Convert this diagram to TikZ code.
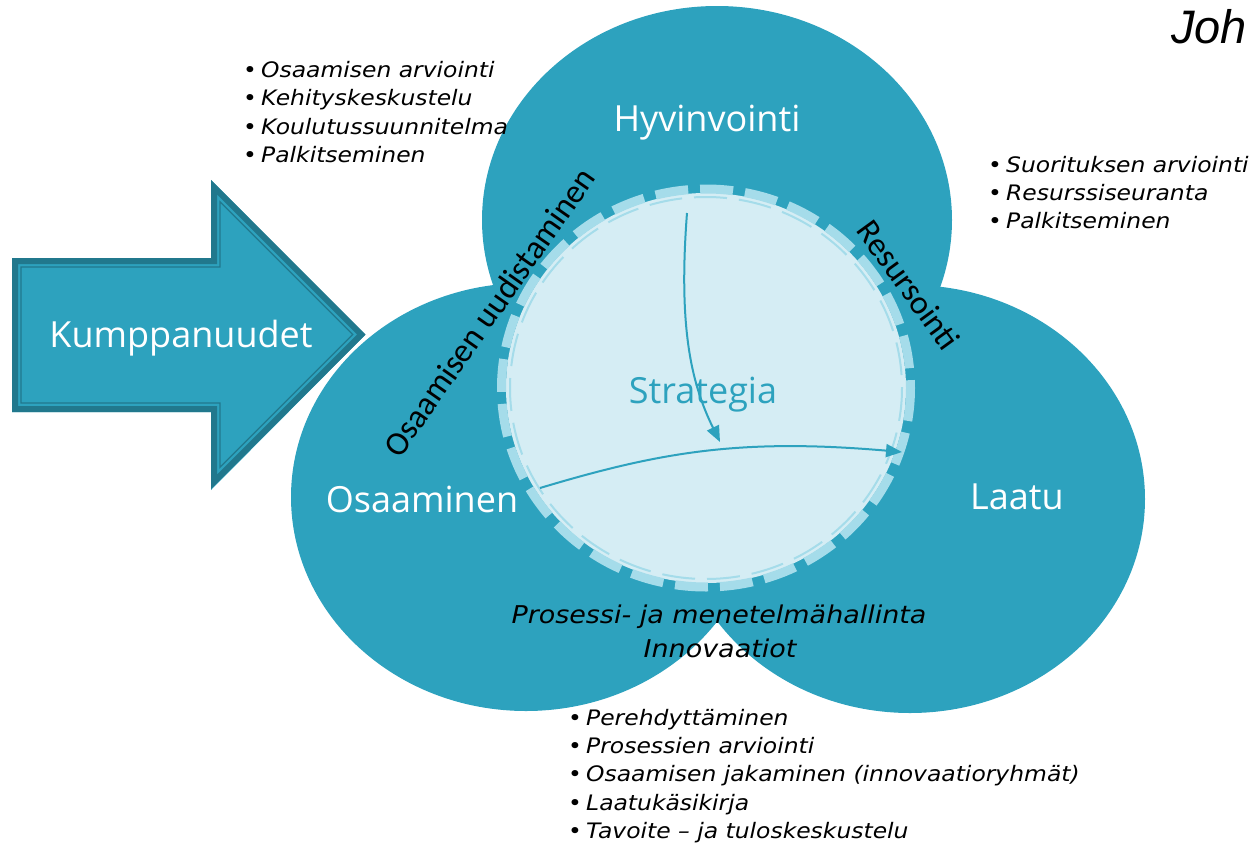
\documentclass[tikz,border=0pt]{standalone}
\usepackage{fontspec}
\setmainfont{Open Sans}
\newfontfamily\listfont[FakeStretch=1.1]{DejaVu Sans}
\newfontfamily\edgefont{Carlito}
\newfontfamily\titlefont{Liberation Sans}
\usetikzlibrary{shapes.geometric, arrows.meta}

\definecolor{areablue}{RGB}{45,162,190}
\definecolor{areadark}{RGB}{33,120,141}
\definecolor{stratfill}{RGB}{213,237,244}
\definecolor{stratdash}{RGB}{165,220,234}

\newcommand{\bitem}[1]{\makebox[18pt][l]{•}\textit{#1}}

\begin{document}
\begin{tikzpicture}[x=1pt, y=-1pt,
            area/.style={ellipse, fill=areablue, minimum width=470, minimum height=428, inner sep=0pt},
            arealabel/.style={text=white, font=\fontsize{36}{40}\selectfont, anchor=base, inner sep=0pt},
            edgelabel/.style={font=\edgefont\fontsize{33.5}{36}\selectfont, inner sep=0pt},
            listitem/.style={font=\listfont\fontsize{21.3}{28}\selectfont, anchor=base west, inner sep=0pt},
            proclabel/.style={font=\listfont\itshape\fontsize{24.5}{28}\selectfont, anchor=base, inner sep=0pt},
            flow/.style={areablue, line width=2pt, -{Triangle[length=16pt, width=13pt]}}
        ]
            \useasboundingbox (0,0) rectangle (1254,846);

            % the three areas
            \node[area] (hyv) at (717,220) {};
            \node[area] (osa) at (526,497) {};
            \node[area] (laa) at (910,499) {};

            % strategy in the middle
            \node[ellipse, fill=stratfill, minimum width=400, minimum height=390, inner sep=0pt] (strat) at (706,388) {};
            \draw[stratdash, line width=9pt, dash pattern=on 33pt off 12pt] (strat.center) ellipse [x radius=204.5, y radius=199];
            \draw[stratdash, line width=2pt, dash pattern=on 33pt off 12pt] (strat.center) ellipse [x radius=196, y radius=191];

            \coordinate (down0) at (687,213);
            \coordinate (down1) at (720,442);
            \coordinate (side0) at (540,488);
            \coordinate (side1) at (902,452);
            \draw[flow] (down0) .. controls (678,330) and (692,385) .. (down1);
            \draw[flow] (side0) .. controls (660,452) and (740,438) .. (side1);

            % partners arrow
            \fill[areablue] (12,258) -- (211,258) -- (211,180) -- (365,335) -- (211,490) -- (211,412) -- (12,412) -- cycle;
            \draw[areadark, line width=6pt] (15,261) -- (214,261) -- (214,187.2) -- (361.3,334.5) -- (214,481.8) -- (214,409) -- (15,409) -- cycle;
            \draw[areadark, line width=1.2pt] (21,267) -- (220,267) -- (220,201.7) -- (352.8,334.5) -- (220,467.3) -- (220,403) -- (21,403) -- cycle;

            \node[arealabel] (kump) at (181,347) {Kumppanuudet};
            \node[arealabel] (hyvlabel) at (707,131) {Hyvinvointi};
            \node[arealabel] (osalabel) at (422,512) {Osaaminen};
            \node[arealabel] (laalabel) at (1017,509) {Laatu};
            \node[arealabel, text=areablue] (stratlabel) at (703,403) {Strategia};

            \node[edgelabel, rotate=55] (renew) at (489,312) {Osaamisen uudistaminen};
            \node[edgelabel, rotate=-54] (resurs) at (909,285) {Resursointi};

            \node[proclabel] (proc) at (719,623) {Prosessi- ja menetelmähallinta};
            \node[proclabel] (innov) at (720,657) {Innovaatiot};

            % lists
            \foreach \t [count=\i from 0] in {Osaamisen arviointi, Kehityskeskustelu, Koulutussuunnitelma, Palkitseminen}
                \node[listitem] (hyvlist\i) at (243,77+28.5*\i) {\bitem{\t}};
            \foreach \t [count=\i from 0] in {Suorituksen arviointi, Resurssiseuranta, Palkitseminen}
                \node[listitem] (reslist\i) at (988,172+28*\i) {\bitem{\t}};
            \foreach \t [count=\i from 0] in {Perehdyttäminen, Prosessien arviointi, Osaamisen jakaminen (innovaatioryhmät), Laatukäsikirja, Tavoite – ja tuloskeskustelu}
                \node[listitem] (proclist\i) at (568,725+28.4*\i) {\bitem{\t}};

            \node[font=\titlefont\itshape\fontsize{47}{50}\selectfont, anchor=base west, inner sep=0pt] (joh) at (1171,43) {Joh};
        \end{tikzpicture}
\end{document}
